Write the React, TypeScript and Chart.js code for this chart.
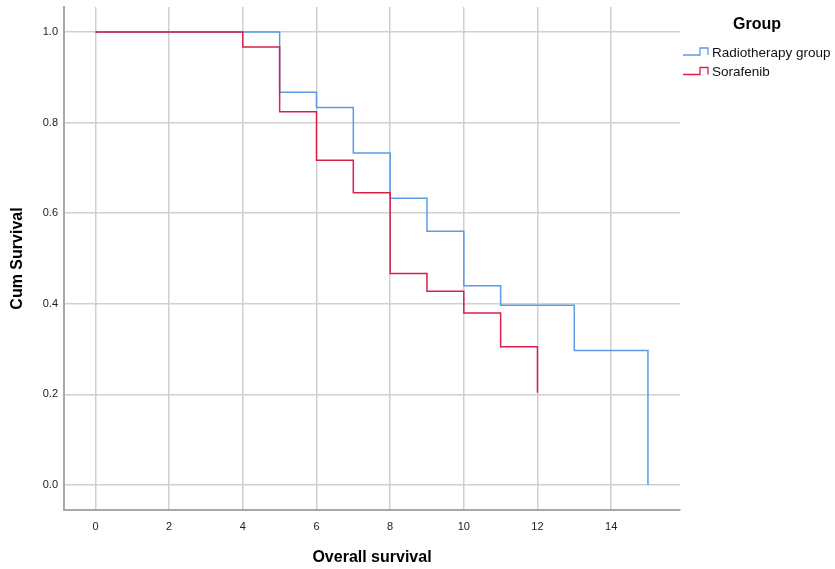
import React, { useEffect, useRef } from "react";
import { Chart, registerables } from "chart.js";

Chart.register(...registerables);

const radioTimes = [0, 5, 6, 7, 8, 9, 10, 11, 13, 15];
const radioSurv = [1.0, 0.867, 0.833, 0.733, 0.633, 0.56, 0.44, 0.397, 0.297, 0.0];
const soraTimes = [0, 4, 5, 6, 7, 8, 9, 10, 11, 12];
const soraSurv = [1.0, 0.967, 0.824, 0.717, 0.645, 0.467, 0.428, 0.38, 0.305, 0.204];
const xTicks = [0, 2, 4, 6, 8, 10, 12, 14];
const yTicks = [0, 0.2, 0.4, 0.6, 0.8, 1.0];
const groupNames = ["Radiotherapy group", "Sorafenib"];
const groupColors = ["#5b9be6", "#d8204c"];

const FONT = "'Liberation Sans', Arial, sans-serif";

const legendPlugin = {
  id: "kmLegend",
  afterDraw(chart: any) {
    const ctx = chart.ctx;
    ctx.save();
    ctx.fillStyle = "#000";
    ctx.font = `bold 16px ${FONT}`;
    ctx.textAlign = "center";
    ctx.textBaseline = "middle";
    ctx.fillText("Group", 757, 25);
    ctx.font = `13.5px ${FONT}`;
    ctx.textAlign = "left";
    groupNames.forEach((name, i) => {
      const cy = 53 + i * 19.5;
      ctx.strokeStyle = groupColors[i];
      ctx.lineWidth = 1.3;
      ctx.beginPath();
      ctx.moveTo(683, cy + 2);
      ctx.lineTo(700, cy + 2);
      ctx.lineTo(700, cy - 5);
      ctx.lineTo(708, cy - 5);
      ctx.lineTo(708, cy + 2);
      ctx.stroke();
      ctx.fillStyle = "#111";
      ctx.fillText(name, 712, cy);
    });
    ctx.restore();
  },
};

export default function App() {
  const ref = useRef<HTMLCanvasElement>(null);
  useEffect(() => {
    const canvas = ref.current;
    if (!canvas) return;
    const chart = new Chart(canvas, {
      type: "line",
      data: {
        datasets: [
          {
            label: groupNames[0],
            data: radioTimes.map((t, i) => ({ x: t, y: radioSurv[i] })),
            borderColor: groupColors[0],
            borderWidth: 1.5,
            pointRadius: 0,
            stepped: "before",
            fill: false,
            order: 2,
          },
          {
            label: groupNames[1],
            data: soraTimes.map((t, i) => ({ x: t, y: soraSurv[i] })),
            borderColor: groupColors[1],
            borderWidth: 1.5,
            pointRadius: 0,
            stepped: "before",
            fill: false,
            order: 1,
          },
        ],
      },
      options: {
        animation: false,
        responsive: false,
        layout: { padding: { top: 7, right: 155, left: 0, bottom: 0 } },
        plugins: { legend: { display: false }, tooltip: { enabled: false } },
        scales: {
          x: {
            type: "linear",
            min: -0.855,
            max: 15.87,
            afterBuildTicks: (s: any) => {
              s.ticks = xTicks.map((v) => ({ value: v }));
            },
            afterFit: (s: any) => {
              s.height = 59;
              s.paddingLeft = 0;
              s.paddingRight = 0;
            },
            grid: { color: "#d0d0d0", lineWidth: 1.5, drawTicks: false },
            border: { color: "#a8a8a8", width: 2 },
            ticks: {
              color: "#222",
              font: { family: FONT, size: 11 },
              padding: 10,
              maxRotation: 0,
              callback: (v: any) => String(v),
            },
            title: {
              display: true,
              text: "Overall survival",
              color: "#000",
              font: { family: FONT, size: 16, weight: "bold" },
              padding: { top: 0, bottom: 2 },
            },
          },
          y: {
            type: "linear",
            min: -0.055,
            max: 1.055,
            afterBuildTicks: (s: any) => {
              s.ticks = yTicks.map((v) => ({ value: v }));
            },
            afterFit: (s: any) => {
              s.width = 64;
              s.paddingTop = 0;
              s.paddingBottom = 0;
            },
            grid: { color: "#d0d0d0", lineWidth: 1.5, drawTicks: false },
            border: { color: "#a8a8a8", width: 2 },
            ticks: {
              color: "#222",
              font: { family: FONT, size: 11 },
              padding: 6,
              callback: (v: any) => Number(v).toFixed(1),
            },
            title: {
              display: true,
              text: "Cum Survival",
              color: "#000",
              font: { family: FONT, size: 16, weight: "bold" },
              padding: { top: 8, bottom: 0 },
            },
          },
        },
      },
      plugins: [legendPlugin],
    });
    return () => chart.destroy();
  }, []);
  return (
    <div style={{ position: "fixed", left: 0, top: 0, width: 835, height: 569, background: "#fff" }}>
      <canvas ref={ref} width={835} height={569} style={{ width: 835, height: 569 }} />
    </div>
  );
}
